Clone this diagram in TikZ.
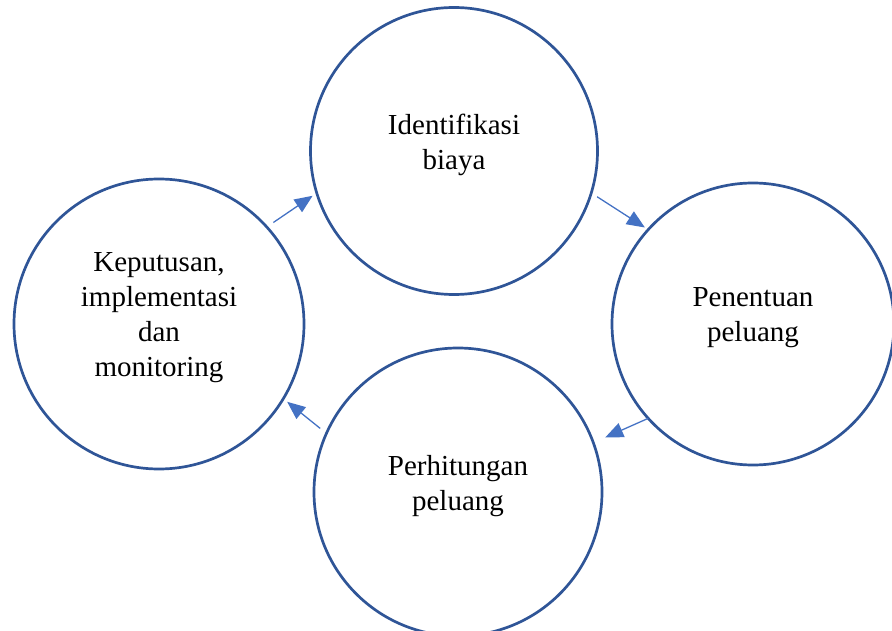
\documentclass[tikz,border=0pt]{standalone}
\usepackage{fontspec}
\setmainfont{Liberation Serif}
\usetikzlibrary{arrows.meta}
\definecolor{ring}{HTML}{2F5597}
\definecolor{arrowblue}{HTML}{4472C4}
\tikzset{stage/.style={circle,draw=ring,line width=2.7pt,inner sep=0pt,outer sep=0pt,align=center,text depth=18pt,font=\fontsize{29}{35}\selectfont},
flow/.style={draw=arrowblue,line width=1.3pt,-{Triangle[length=18pt,width=15pt]}}}
\begin{document}
\begin{tikzpicture}[x=1pt,y=-1pt]
\useasboundingbox (0,0) rectangle (892,631);
\node[stage,minimum size=287pt] (biaya) at (454,151){Identifikasi\\biaya};
\node[stage,minimum size=282pt] (tentu) at (753,324){Penentuan\\peluang};
\node[stage,minimum size=288pt] (hitung) at (458,492){Perhitungan\\peluang};
\node[stage,minimum size=290pt] (putus) at (159,324){Keputusan,\\implementasi\\dan\\monitoring};
\draw[flow,shorten <=8pt,shorten >=5pt] (putus.42) -- (biaya.-163);
\draw[flow,shorten <=7pt,shorten >=4pt] (biaya.-17) -- (tentu.138);
\draw[flow,shorten <=0pt,shorten >=13pt] (tentu.222) -- (hitung.20);
\draw[flow,shorten <=8pt,shorten >=5pt] (hitung.156) -- (putus.-31);
\end{tikzpicture}
\end{document}
